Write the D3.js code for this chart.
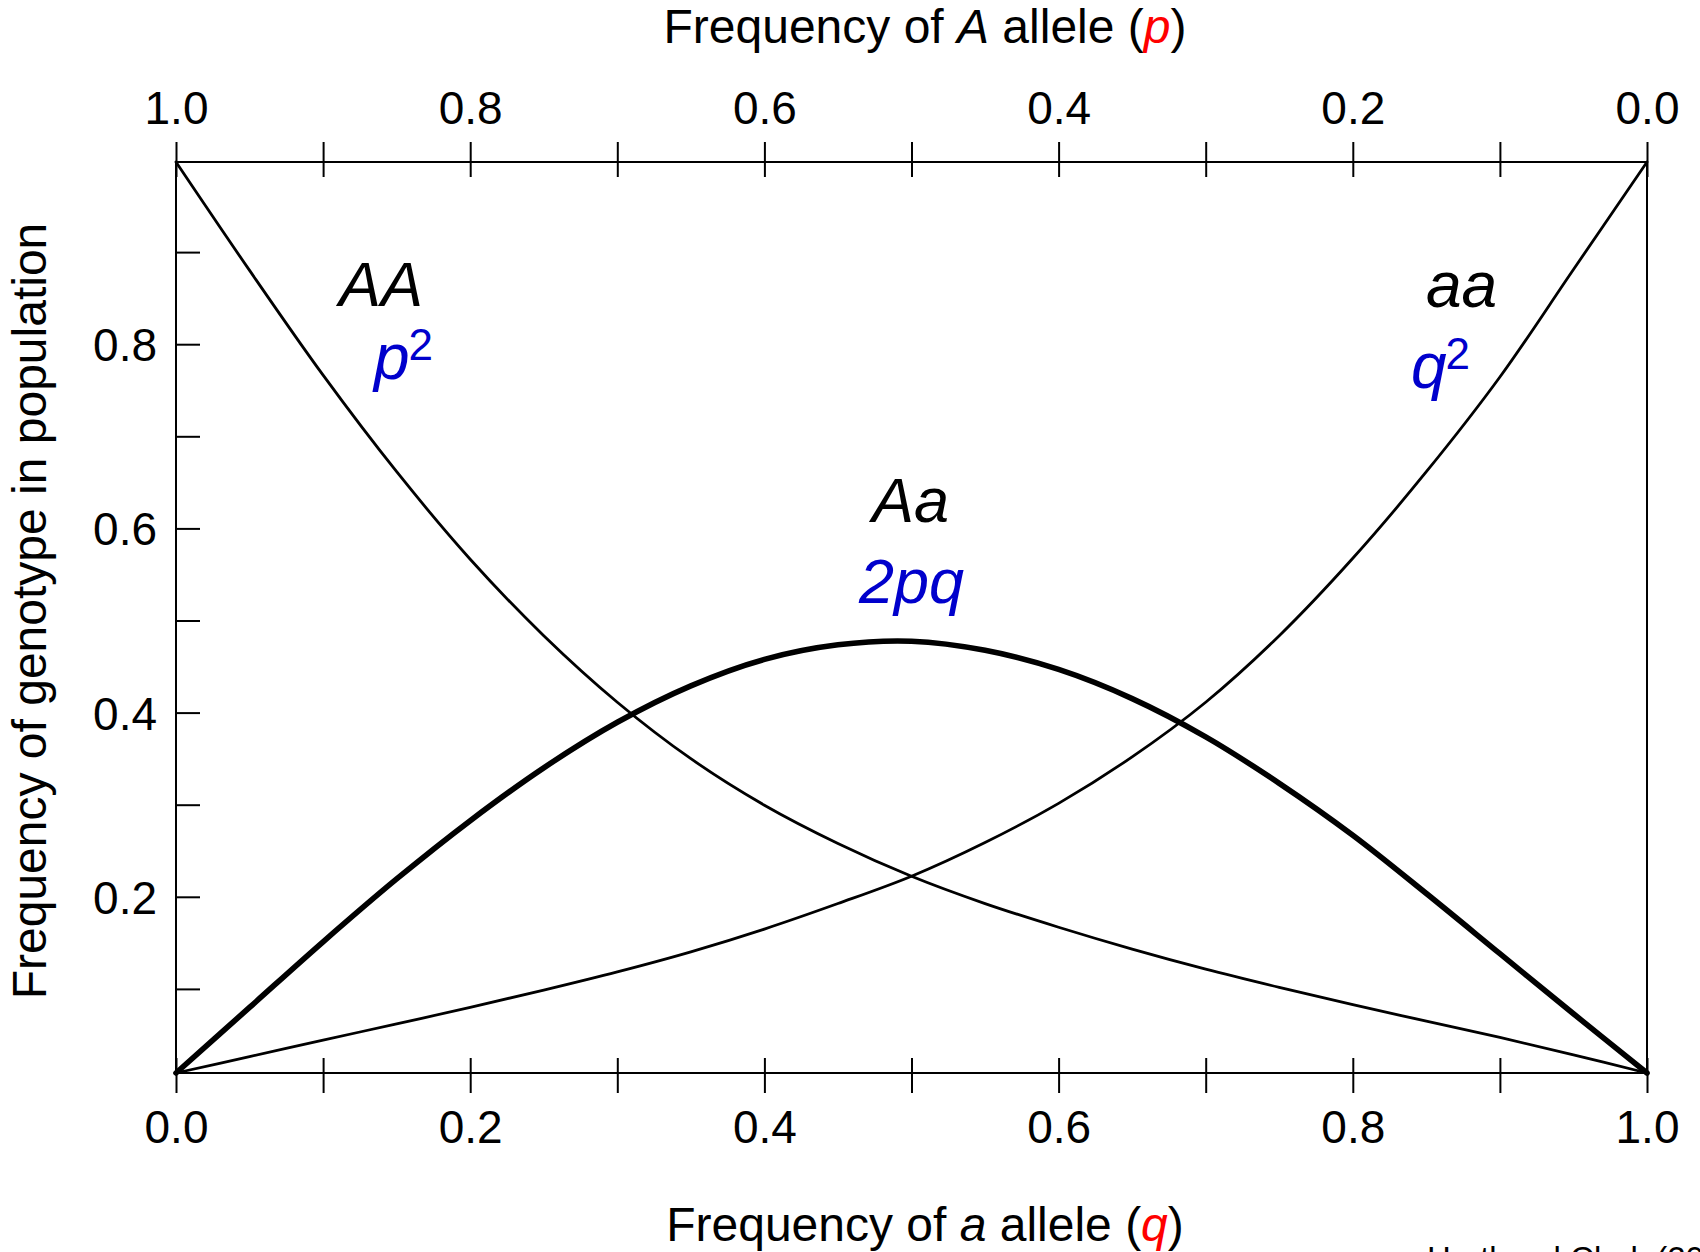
<!DOCTYPE html>
<html><head><meta charset="utf-8">
<script src="https://cdn.jsdelivr.net/npm/d3@7"></script>
<style>
body{margin:0;background:#fff}
svg{display:block}
text{font-family:"Liberation Sans",Arial,Helvetica,sans-serif}
</style>
</head><body>
<svg id="chart" width="1700" height="1252"></svg>
<script>
// ---- data ----
const qValues   = [0,0.05,0.1,0.15,0.2,0.25,0.3,0.35,0.4,0.45,0.5,0.55,0.6,0.65,0.7,0.75,0.8,0.85,0.9,0.95,1];
const freqAA    = [1.0,0.881,0.766,0.660,0.564,0.480,0.407,0.345,0.294,0.252,0.216,0.186,0.160,0.136,0.114,0.094,0.075,0.057,0.039,0.020,0];
const freqAa    = [0,0.072,0.144,0.213,0.277,0.335,0.385,0.425,0.454,0.470,0.474,0.464,0.443,0.411,0.369,0.318,0.261,0.197,0.131,0.065,0];
const freqaa    = [0,0.018,0.036,0.054,0.072,0.091,0.111,0.133,0.158,0.186,0.216,0.253,0.296,0.347,0.407,0.480,0.565,0.660,0.764,0.882,1.0];
const xTickValues = [0,0.1,0.2,0.3,0.4,0.5,0.6,0.7,0.8,0.9,1.0];
const xLabelled   = [0,0.2,0.4,0.6,0.8,1.0];
const yTickValues = [0.1,0.2,0.3,0.4,0.5,0.6,0.7,0.8,0.9];
const yLabelled   = [0.2,0.4,0.6,0.8];

const svg = d3.select("#chart");
const FONT = '"Liberation Sans",Arial,Helvetica,sans-serif';

const x = d3.scaleLinear().domain([0,1]).range([176,1647]);
const p = d3.scaleLinear().domain([1,0]).range([176,1647]);
const y = d3.scaleLinear().domain([0,1]).range([1073,162]);
const yTick = d3.scaleLinear().domain([0,1]).range([1081,160]);

const isLab = (arr) => d => arr.some(v => Math.abs(v - d) < 1e-9);

// bottom axis (q)
svg.append("g").attr("transform",`translate(0,${y(0)})`)
  .call(d3.axisBottom(x).tickValues(xTickValues).tickSize(20)
        .tickFormat(d => isLab(xLabelled)(d) ? d.toFixed(1) : ""))
  .call(g => g.select(".domain").remove())
  .call(g => g.selectAll(".tick line").attr("y1",-15).attr("y2",20).attr("stroke","#000").attr("stroke-width",2))
  .call(g => g.selectAll(".tick text").attr("y",70).attr("dy",null)
        .attr("font-size",46).attr("font-family",FONT).attr("fill","#000"));

// top axis (p)
svg.append("g").attr("transform",`translate(0,${y(1)})`)
  .call(d3.axisTop(p).tickValues(xTickValues).tickSize(20)
        .tickFormat(d => isLab(xLabelled)(d) ? d.toFixed(1) : ""))
  .call(g => g.select(".domain").remove())
  .call(g => g.selectAll(".tick line").attr("y1",15).attr("y2",-20).attr("stroke","#000").attr("stroke-width",2))
  .call(g => g.selectAll(".tick text").attr("y",-38).attr("dy",null)
        .attr("font-size",46).attr("font-family",FONT).attr("fill","#000"));

// left axis
svg.append("g").attr("transform",`translate(${x(0)},0)`)
  .call(d3.axisRight(yTick).tickValues(yTickValues).tickSize(24)
        .tickFormat(d => isLab(yLabelled)(d) ? d.toFixed(1) : ""))
  .call(g => g.select(".domain").remove())
  .call(g => g.selectAll(".tick line").attr("stroke","#000").attr("stroke-width",2))
  .call(g => g.selectAll(".tick text").attr("x",-19).attr("dy","0.36em").attr("text-anchor","end")
        .attr("font-size",46).attr("font-family",FONT).attr("fill","#000"));

// frame
svg.append("rect").attr("x",x(0)).attr("y",y(1))
  .attr("width",x(1)-x(0)).attr("height",y(0)-y(1))
  .attr("fill","none").attr("stroke","#000").attr("stroke-width",2);

// curves
const line = d3.line().x(d => x(d[0])).y(d => y(d[1])).curve(d3.curveCatmullRom.alpha(0.5));
const series = [
  {vals: freqAA, w: 2.8},
  {vals: freqaa, w: 2.8},
  {vals: freqAa, w: 5.6}
];
svg.selectAll("path.curve").data(series).join("path").attr("class","curve")
  .attr("d", s => line(qValues.map((q,i) => [q, s.vals[i]])))
  .attr("fill","none").attr("stroke","#000").attr("stroke-width", s => s.w)
  .attr("stroke-linejoin","round").attr("stroke-linecap","round");

// axis titles
function title(tx, ty, letter, param){
  const t = svg.append("text").attr("x",tx).attr("y",ty)
    .attr("font-size",48).attr("fill","#000").attr("text-anchor","middle");
  t.append("tspan").text("Frequency of ");
  t.append("tspan").attr("font-style","italic").text(letter);
  t.append("tspan").text(" allele (");
  t.append("tspan").attr("font-style","italic").attr("fill","#ff0000").text(param);
  t.append("tspan").text(")");
}
title(925, 43, "A", "p");
title(925, 1241, "a", "q");
svg.append("text").attr("transform","translate(46,611) rotate(-90)")
  .attr("text-anchor","middle").attr("font-size",48).attr("fill","#000")
  .text("Frequency of genotype in population");

// genotype labels
const BLUE = "#0000cc";
svg.append("text").attr("x",339).attr("y",306).attr("font-size",63).attr("font-style","italic").text("AA");
svg.append("text").attr("x",1426).attr("y",307).attr("font-size",64).attr("font-style","italic").text("aa");
svg.append("text").attr("x",872).attr("y",522).attr("font-size",63).attr("font-style","italic").text("Aa");

function sq(tx, ty, base){
  const t = svg.append("text").attr("x",tx).attr("y",ty).attr("fill",BLUE).attr("font-size",64);
  t.append("tspan").attr("font-style","italic").text(base);
  t.append("tspan").attr("font-size",44).attr("dy",-19).attr("dx",-1).text("2");
}
sq(374, 379, "p");
sq(1411, 388, "q");
svg.append("text").attr("x",859).attr("y",603).attr("font-size",63).attr("font-style","italic")
  .attr("fill",BLUE).text("2pq");

// source (cut off by the bottom edge, as in the reference)
svg.append("text").attr("x",1427).attr("y",1270).attr("font-size",33).attr("fill","#000")
  .text("Hartl and Clark (2007)");
</script>
</body></html>
